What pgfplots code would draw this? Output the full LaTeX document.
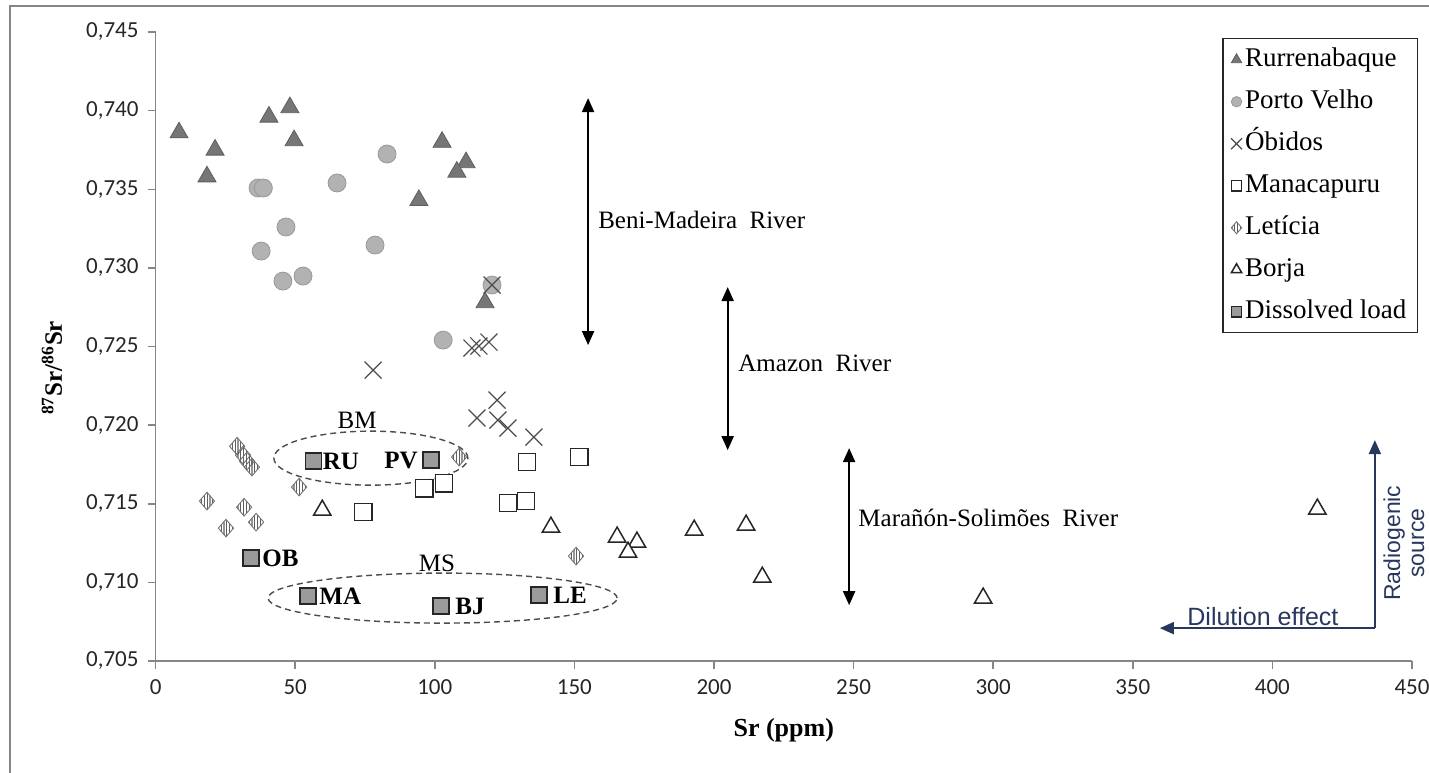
\documentclass[border=0pt]{standalone}
\usepackage{fontspec}
\setmainfont{Liberation Serif}
\newfontfamily\carlito{Carlito}
\newfontfamily\arialf{Liberation Sans}
\usepackage{pgfplots}
\pgfplotsset{compat=1.18}
\usetikzlibrary{arrows.meta,patterns.meta}
\definecolor{axgray}{RGB}{134,134,134}
\definecolor{rurgray}{RGB}{118,118,118}
\definecolor{pvgray}{RGB}{178,178,178}
\definecolor{letgray}{RGB}{95,95,95}
\definecolor{dlgray}{RGB}{155,155,155}
\definecolor{slate}{RGB}{40,55,92}

% fine vertical hatching for the Leticia markers
\tikzdeclarepattern{
  name=fine vlines,
  type=uncolored,
  bounding box={(-0.3pt,0pt) and (0.3pt,1.4pt)},
  tile size={(1.4pt,1.4pt)},
  code={\draw[line width=0.55pt] (0pt,0pt) -- (0pt,1.4pt);}
}

\begin{document}
\begin{tikzpicture}
\useasboundingbox (-77.8pt,-55.5pt) rectangle (636.7pt,330.5pt);
\draw[axgray, line width=0.75pt] (-72.8pt,-56pt) -- (-72.8pt,327.5pt) -- (637pt,327.5pt);
\begin{axis}[
  scale only axis, width=628.2pt, height=314.5pt,
  at={(0,0)}, anchor=south west,
  xmin=0, xmax=450, ymin=0.705, ymax=0.745,
  axis x line*=bottom, axis y line*=left,
  axis line style={axgray, line width=0.75pt},
  xtick={0,50,100,150,200,250,300,350,400,450},
  ytick={0.705,0.710,0.715,0.720,0.725,0.730,0.735,0.740,0.745},
  tick style={axgray, line width=0.75pt}, major tick length=4pt, tick align=outside,
  /pgf/number format/assume math mode=true,
  ticklabel style={font=\carlito\fontsize{11.5}{13}\selectfont, text=black!85},
  yticklabel style={/pgf/number format/fixed, /pgf/number format/fixed zerofill,
    /pgf/number format/precision=3, /pgf/number format/use comma, xshift=-1pt},
  xticklabel style={/pgf/number format/fixed, /pgf/number format/precision=0, yshift=-2pt},
  xlabel={\textbf{Sr (ppm)}},
  xlabel style={at={(axis description cs:0.5,-0.1097)}, anchor=center, font=\fontsize{13}{15}\selectfont},
  ylabel={\textbf{\textsuperscript{87}Sr/\textsuperscript{86}Sr}},
  ylabel style={at={(axis description cs:-0.0825,0.466)}, anchor=center, font=\fontsize{12.5}{15}\selectfont},
  clip=false,
  legend cell align=left,
  legend image code/.code={\draw[#1] plot coordinates {(0pt,0pt)};},
  legend style={at={(rel axis cs:1.0048,0.9905)}, anchor=north east,
    draw=black!85, line width=0.75pt, font=\fontsize{13.5}{15}\selectfont,
    row sep=8.5pt, inner xsep=4pt, inner ysep=4.25pt,
    nodes={text height=9.5pt, text depth=3pt, inner ysep=0pt, inner xsep=1.5pt}},
]
% Rurrenabaque
\addplot[only marks, mark=triangle*, mark size=5.2pt,
  mark options={fill=rurgray, draw=rurgray!80!black, line width=0.4pt},
  legend image post style={mark size=3pt}]
  coordinates {(8.4,0.7386) (21.3,0.7375) (18.4,0.7358) (40.6,0.7396) (48.1,0.7402)
  (49.6,0.7381) (102.6,0.7380) (111.2,0.7367) (107.9,0.7361) (94.3,0.7343) (118.0,0.7278)};
\addlegendentry{Rurrenabaque}
% Porto Velho
\addplot[only marks, mark=*, mark size=4.5pt,
  mark options={fill=pvgray, draw=gray!80, line width=0.4pt},
  legend image post style={mark size=2.6pt}]
  coordinates {(36.7,0.73508) (38.6,0.73508) (82.9,0.73724) (65.0,0.73540) (46.7,0.73260)
  (37.8,0.73107) (45.6,0.72916) (52.8,0.72948) (78.6,0.73145) (120.5,0.72891) (103.0,0.72541)};
\addlegendentry{Porto Velho}
% Obidos
\addplot[only marks, mark=x, mark size=6pt,
  mark options={draw=black!70, line width=0.6pt},
  legend image post style={mark size=3.9pt}]
  coordinates {(120.5,0.72891) (77.9,0.72350) (113.3,0.72490) (115.8,0.72503) (119.4,0.72528)
  (122.3,0.72159) (115.1,0.72045) (122.6,0.72032) (126.2,0.71981) (135.5,0.71924)};
\addlegendentry{Óbidos}
% Manacapuru
\addplot[only marks, mark=square*, mark size=4.3pt,
  mark options={fill=white, draw=black!85, line width=0.75pt},
  legend image post style={mark size=2.6pt}]
  coordinates {(74.4,0.71447) (96.2,0.71599) (103.3,0.71631) (133.0,0.71765) (151.7,0.71797)
  (126.2,0.71504) (132.7,0.71517)};
\addlegendentry{Manacapuru}
% Leticia
\addplot[only marks, mark=diamond*, mark size=4.4pt,
  mark options={xscale=1.15, pattern=fine vlines, pattern color=letgray, draw=gray!90!black, line width=0.45pt},
  legend image post style={mark size=3pt}]
  coordinates {(29.2,0.71866) (31.3,0.71809) (32.7,0.71771) (34.5,0.71733) (51.4,0.71606)
  (18.4,0.71517) (31.7,0.71478) (36.0,0.71383) (25.2,0.71345) (108.7,0.71797) (150.6,0.71167)};
\addlegendentry{Letícia}
% Borja
\addplot[only marks, mark=triangle*, mark size=5pt,
  mark options={fill=white, draw=black!85, line width=0.75pt},
  legend image post style={mark size=3pt}]
  coordinates {(59.7,0.71459) (141.6,0.71351) (165.3,0.71288) (172.4,0.71256) (169.2,0.71192)
  (192.9,0.71332) (211.5,0.71364) (217.3,0.71033) (296.4,0.70900) (416.1,0.71466)};
\addlegendentry{Borja}
% Dissolved load
\addplot[only marks, mark=square*, mark size=4pt,
  mark options={fill=dlgray, draw=black!85, line width=0.75pt},
  legend image post style={mark size=2.6pt}]
  coordinates {(56.5,0.71771) (98.7,0.71777) (34.2,0.71154) (54.6,0.70912) (102.2,0.70849) (137.3,0.70919)};
\addlegendentry{Dissolved load}

% station labels of the dissolved load
\begin{scope}[every node/.style={font=\bfseries\fontsize{12.5}{15}\selectfont, inner sep=0pt}]
\node[anchor=west] at (axis cs:56.5,0.71771) [xshift=4.5pt] {RU};
\node[anchor=east] at (axis cs:98.7,0.71777) [xshift=-6.5pt] {PV};
\node[anchor=west] at (axis cs:34.2,0.71154) [xshift=5.5pt] {OB};
\node[anchor=west] at (axis cs:54.6,0.70912) [xshift=5.5pt] {MA};
\node[anchor=west] at (axis cs:102.2,0.70849) [xshift=7pt] {BJ};
\node[anchor=west] at (axis cs:137.3,0.70919) [xshift=7pt] {LE};
\end{scope}

% groups
\draw[black!70, dashed, dash pattern=on 3pt off 2pt, line width=0.7pt]
  (axis cs:77.1,0.7179) ellipse [x radius=48.5pt, y radius=13.5pt];
\draw[black!70, dashed, dash pattern=on 3pt off 2pt, line width=0.7pt]
  (axis cs:102.8,0.7090) ellipse [x radius=87.25pt, y radius=12.5pt];
\node[font=\fontsize{12.5}{15}\selectfont] at (axis cs:72.2,0.7203) {BM};
\node[font=\fontsize{12.5}{15}\selectfont] at (axis cs:100.8,0.7112) {MS};

% river ranges
\begin{scope}[line width=1pt, {Triangle[width=6pt,length=7pt]}-{Triangle[width=6pt,length=7pt]}]
\draw (axis cs:154.9,0.74080) -- (axis cs:154.9,0.72509);
\draw (axis cs:204.9,0.72878) -- (axis cs:204.9,0.71841);
\draw (axis cs:248.4,0.71854) -- (axis cs:248.4,0.70855);
\end{scope}
\begin{scope}[every node/.style={font=\fontsize{12.5}{15}\selectfont, anchor=west, inner sep=0pt}]
\node at (axis cs:158.4,0.73304) {Beni-Madeira\ \ River};
\node at (axis cs:208.6,0.72394) {Amazon\ \ River};
\node at (axis cs:251.6,0.71409) {Marañón-Solimões\ \ River};
\end{scope}

% source trends
\draw[slate, line width=1pt, -{Triangle[width=6pt,length=7pt]}]
  (axis cs:436.7,0.70709) -- (axis cs:436.7,0.71905);
\draw[slate, line width=1pt, -{Triangle[width=6pt,length=7pt]}]
  (axis cs:436.7,0.70709) -- (axis cs:359.7,0.70709);
\node[slate, font=\arialf\fontsize{12.5}{14}\selectfont] at (axis cs:396.6,0.70785) {Dilution effect};
\node[slate, font=\arialf\fontsize{11.5}{12}\selectfont, rotate=90, align=center]
  at (axis cs:447.1,0.71250) {Radiogenic\\source};
\end{axis}
\end{tikzpicture}
\end{document}
